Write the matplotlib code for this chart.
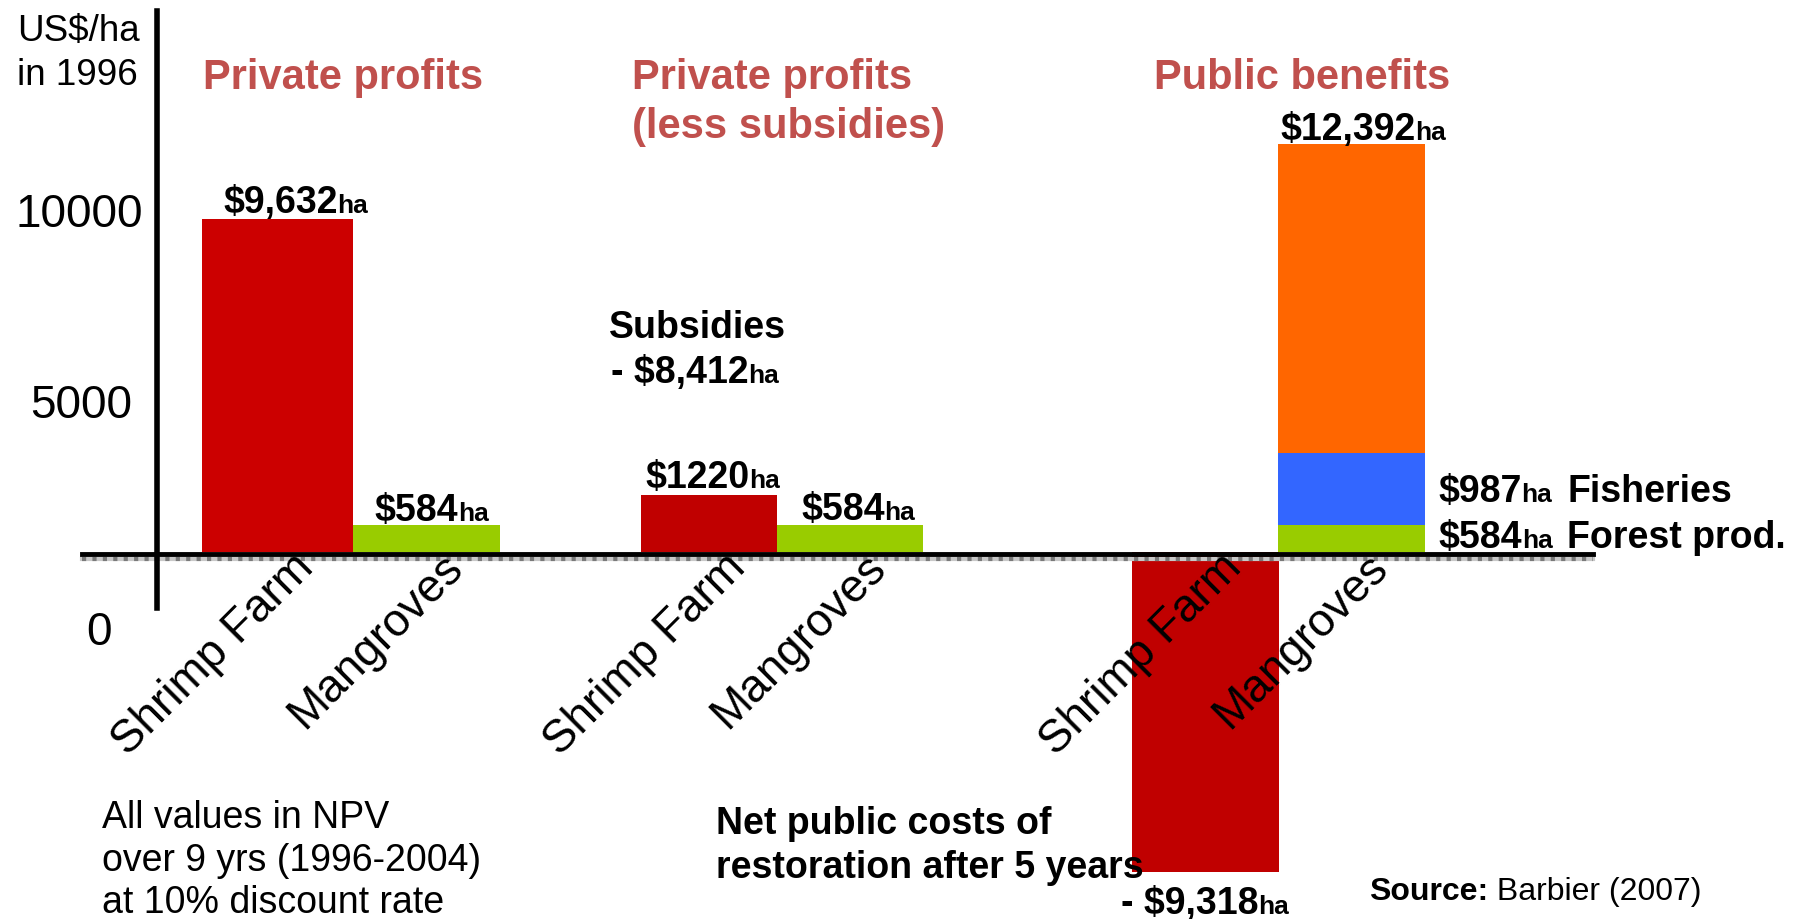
import numpy as np
import matplotlib
matplotlib.use("Agg")
from matplotlib import pyplot as plt

plt.rcParams['font.family'] = ['Liberation Sans', 'DejaVu Sans']

# bar heights as drawn in the source slide (US$/ha, small bars are drawn larger than their labels)
categories = ['Shrimp Farm', 'Mangroves']
panel_titles = ['Private profits', 'Private profits\n(less subsidies)', 'Public benefits']
private_profits = [9790, 790]
private_less_subsidies = [1680, 790]
public_shrimp = -9410
public_mangrove_parts = [790, 2120, 9090]  # forest products, fisheries, rest
value_labels = ['$9,632', '$584', '$1220', '$584', '- $9,318', '$12,392']
ytick_labels = ['10000', '5000', '0']

W, H = 1797, 920
PX_UNIT = 147.0    # pixels per bar width
PX_K = 34.0        # pixels per 1000 US$
BASE = 553.0       # pixel row of the zero line

fig = plt.figure(figsize=(W / 100, H / 100), dpi=100)
ax = fig.add_axes([0, 0, 1, 1])
ax.set_xlim(0, W / PX_UNIT)
ax.set_ylim(-(H - BASE) / PX_K * 1000, BASE / PX_K * 1000)

def ydata(py):
    return (BASE - py) / PX_K * 1000

xpos = [1.888, 2.901, 4.823, 5.782, 8.201, 9.194]
widths = [1.027, 1.0, 0.925, 0.993, 1.0, 1.0]
red1, red2, green, blue, orange = '#CC0000', '#C00000', '#99CC00', '#3366FF', '#FF6600'

ax.bar(xpos[0:2], private_profits, width=widths[0:2], color=[red1, green])
ax.bar(xpos[2:4], private_less_subsidies, width=widths[2:4], color=[red2, green])
ax.bar(xpos[4], public_shrimp, width=widths[4], color=red2)
bottom = 0
for part, col in zip(public_mangrove_parts, [green, blue, orange]):
    ax.bar(xpos[5], part, width=widths[5], bottom=bottom, color=col)
    bottom += part

# axis lines
for s in ['top', 'right']:
    ax.spines[s].set_visible(False)
ax.spines['left'].set_position(('data', 157 / PX_UNIT))
ax.spines['left'].set_bounds(ydata(609), ydata(12))
ax.spines['left'].set_linewidth(4)
ax.spines['bottom'].set_position(('data', ydata(555)))
ax.spines['bottom'].set_bounds(82 / PX_UNIT, 1593 / PX_UNIT)
ax.spines['bottom'].set_linewidth(3.5)
ax.plot([82 / PX_UNIT, 1593 / PX_UNIT], [ydata(560)] * 2, color='#c8c8c8', lw=3, zorder=2.4)
ax.plot([82 / PX_UNIT, 1593 / PX_UNIT], [ydata(560)] * 2, color='#7a7a7a', lw=3,
        ls=(0, (1, 1.5)), zorder=2.4)
ax.set_xticks([])
ax.set_yticks([])

# rotated category names under each bar
for i, x in enumerate(xpos):
    ax.text(x + 38 / PX_UNIT, ydata(570), categories[i % 2], rotation=45,
            rotation_mode='anchor', ha='right', va='baseline', size=33)

renderer = fig.canvas.get_renderer()

def put(x, y, s, **kw):
    kw.setdefault('va', 'baseline')
    return fig.text(x / W, 1 - y / H, s, **kw)

def money(x, y, main):
    t = put(x, y, main, size=27, weight='bold')
    bb = t.get_window_extent(renderer)
    put(bb.x1, y, 'ha', size=19, weight='bold')

# y axis text
put(17, 41, 'US$/ha', size=26.5)
put(17, 85, 'in 1996', size=26.5)
for lab, (xr, yb) in zip(ytick_labels, [(143, 227), (132, 418), (112, 645)]):
    put(xr, yb, lab, size=33, ha='right')

# panel titles
title_color = '#C0504D'
put(203, 89, panel_titles[0], size=30, weight='bold', color=title_color)
for k, line in enumerate(panel_titles[1].split('\n')):
    put(632, 89 + 49 * k, line, size=30, weight='bold', color=title_color)
put(1154, 89, panel_titles[2], size=30, weight='bold', color=title_color)

# value labels
money(223, 213, value_labels[0])
money(374, 521, value_labels[1])
money(645, 488, value_labels[2])
money(801, 520, value_labels[3])
money(1121, 914, value_labels[4])
money(1280, 140, value_labels[5])

put(609, 338, 'Subsidies', size=27, weight='bold')
money(611, 383, '- $8,412')

money(1438, 502, '$987')
put(1567, 502, 'Fisheries', size=27, weight='bold')
money(1438, 548, '$584')
put(1567, 548, 'Forest prod.', size=27, weight='bold')

put(716, 834, 'Net public costs of', size=27, weight='bold')
put(716, 878, 'restoration after 5 years', size=27, weight='bold')

put(102, 828, 'All values in NPV', size=27)
put(102, 871, 'over 9 yrs (1996-2004)', size=27)
put(102, 913, 'at 10% discount rate', size=27)

src = put(1369, 900, 'Source:', size=23, weight='bold')
bb = src.get_window_extent(renderer)
put(bb.x1, 900, ' Barbier (2007)', size=23)

fig.savefig('out.png', dpi=100)
